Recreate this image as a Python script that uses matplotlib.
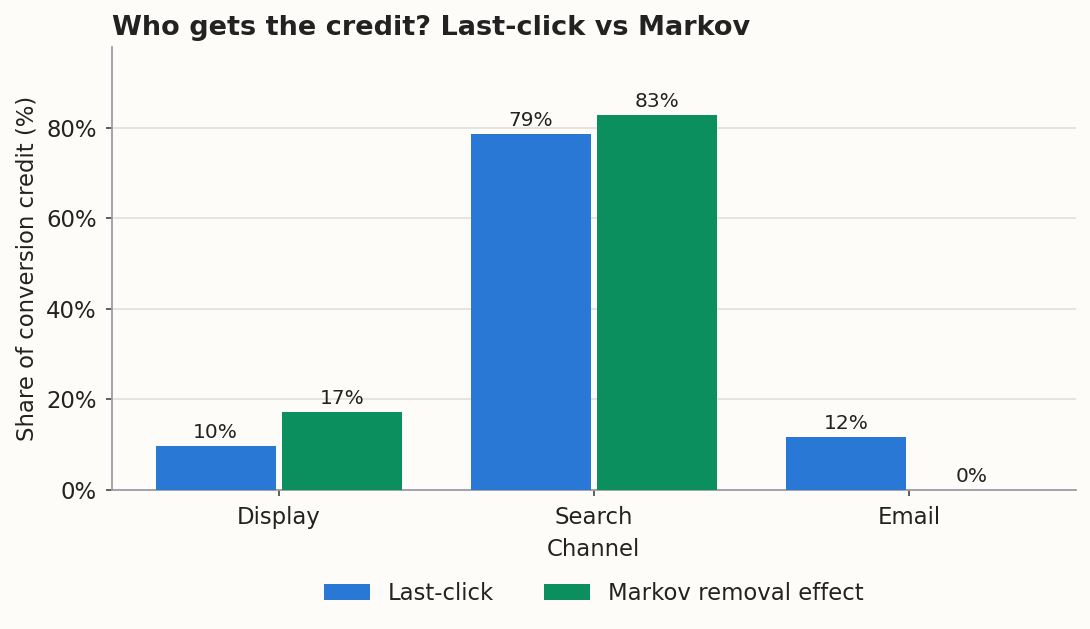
import numpy as np
import matplotlib
matplotlib.use("Agg")
import matplotlib.pyplot as plt
from matplotlib.ticker import PercentFormatter

channels = ["Display", "Search", "Email"]
last_click = [9.7, 78.7, 11.7]
markov = [17.2, 82.9, 0.0]
series_names = ["Last-click", "Markov removal effect"]

BG = "#fdfcf8"
TXT = "#222222"
BLUE = "#2a78d6"
GREEN = "#0b8f5f"
FS = 16.4

plt.rcParams["font.family"] = "DejaVu Sans"

fig = plt.figure(figsize=(10.9, 6.29), dpi=100, facecolor=BG)
ax = fig.add_axes([0.1028, 0.221, 0.884, 0.704])
ax.set_facecolor(BG)

x = np.arange(len(channels))
w = 0.38
b1 = ax.bar(x - 0.2, last_click, w, color=BLUE, label=series_names[0], zorder=3)
b2 = ax.bar(x + 0.2, markov, w, color=GREEN, label=series_names[1], zorder=3)

for bars, vals in [(b1, last_click), (b2, markov)]:
    for r, v in zip(bars, vals):
        ax.annotate(f"{v:.0f}%", (r.get_x() + r.get_width() / 2, v),
                    xytext=(0, 3), textcoords="offset points",
                    ha="center", va="bottom", fontsize=14.5, color=TXT)

ax.set_ylim(0, max(markov + last_click) * 1.18)
ax.yaxis.set_major_formatter(PercentFormatter(decimals=0))
ax.set_yticks([0, 20, 40, 60, 80])
ax.set_xticks(x)
ax.set_xticklabels(channels)
ax.grid(axis="y", color="#e2e2e0", linewidth=1.3, zorder=0)

for s in ["top", "right"]:
    ax.spines[s].set_visible(False)
for s in ["left", "bottom"]:
    ax.spines[s].set_color("#9a9ea6")
    ax.spines[s].set_linewidth(1.3)
ax.tick_params(axis="both", colors="#444444", labelcolor=TXT, labelsize=FS,
               length=4.5, width=1.2)
ax.tick_params(axis="x", pad=7.2)
ax.tick_params(axis="y", pad=6.4)

ax.set_xlabel("Channel", fontsize=FS, color=TXT, labelpad=6)
ax.set_ylabel("Share of conversion credit (%)", fontsize=FS, color=TXT,
              labelpad=5.5)
ax.set_title("Who gets the credit? Last-click vs Markov", loc="left",
             fontsize=19.5, fontweight="bold", color=TXT, pad=9)

ax.legend(loc="upper center", bbox_to_anchor=(0.5, -0.162), ncol=2,
          frameon=False, fontsize=FS, labelcolor=TXT,
          handlelength=2.0, columnspacing=2.2)

fig.savefig("out.png", dpi=100, facecolor=BG)
